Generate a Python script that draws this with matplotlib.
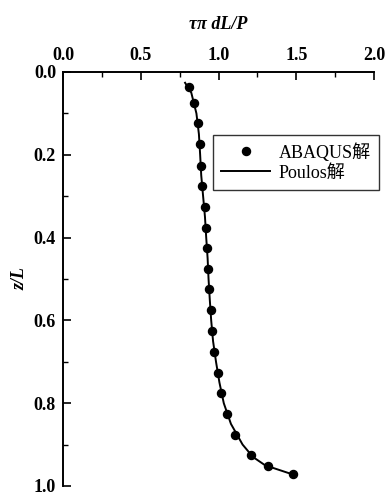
import matplotlib
matplotlib.use("Agg")
import matplotlib.pyplot as plt
from matplotlib.ticker import MultipleLocator

# Data
z_abaqus = [0.036, 0.074, 0.124, 0.174, 0.227, 0.275, 0.325, 0.376, 0.426, 0.476,
            0.525, 0.575, 0.625, 0.676, 0.726, 0.776, 0.827, 0.877, 0.926, 0.952, 0.972]
t_abaqus = [0.808, 0.842, 0.868, 0.878, 0.885, 0.893, 0.910, 0.917, 0.925, 0.934,
            0.938, 0.949, 0.957, 0.974, 0.996, 1.017, 1.056, 1.109, 1.209, 1.321, 1.477]

z_poulos = [0.026, 0.05, 0.10, 0.15, 0.20, 0.25, 0.30, 0.35, 0.40, 0.45, 0.50,
            0.55, 0.60, 0.65, 0.70, 0.75, 0.80, 0.85, 0.90, 0.93, 0.95, 0.972]
t_poulos = [0.785, 0.825, 0.858, 0.874, 0.882, 0.889, 0.901, 0.913, 0.921, 0.930,
            0.936, 0.944, 0.953, 0.965, 0.984, 1.006, 1.034, 1.080, 1.155, 1.222, 1.300, 1.477]

xticks = [0.0, 0.5, 1.0, 1.5, 2.0]
yticks = [0.0, 0.2, 0.4, 0.6, 0.8, 1.0]

serif = ["Liberation Serif", "Noto Sans CJK SC"]
plt.rcParams['font.family'] = serif

fig = plt.figure(figsize=(3.87, 4.95), dpi=100)
ax = fig.add_axes([63/387, 1-486/495, (374-63)/387, (486-72)/495])

ax.plot(t_poulos, z_poulos, color='black', lw=1.4, label='Poulos解', zorder=2)
ax.plot(t_abaqus, z_abaqus, 'o', color='black', ms=5.8, label='ABAQUS解', zorder=3)

ax.set_xlim(0, 2.0)
ax.set_ylim(1.0, 0.0)
ax.xaxis.set_ticks_position('top')
ax.xaxis.set_label_position('top')
ax.set_xticks(xticks)
ax.set_yticks(yticks)
ax.set_xticklabels([f"{v:.1f}" for v in xticks], fontweight='bold', fontsize=13)
ax.set_yticklabels([f"{v:.1f}" for v in yticks], fontweight='bold', fontsize=13)
ax.xaxis.set_minor_locator(MultipleLocator(0.25))
ax.yaxis.set_minor_locator(MultipleLocator(0.1))
ax.tick_params(which='major', direction='in', length=5.5, width=1.2)
ax.tick_params(which='minor', direction='in', length=3.5, width=1.0)
ax.tick_params(axis='x', which='major', pad=6)
ax.tick_params(axis='y', which='major', pad=5)
ax.tick_params(axis='x', which='both', top=True, bottom=False)
ax.tick_params(axis='y', which='both', left=True, right=False)
for s in ['right', 'bottom']:
    ax.spines[s].set_visible(False)
for s in ['left', 'top']:
    ax.spines[s].set_linewidth(1.4)

ax.set_xlabel('τπ dL/P', fontsize=13, labelpad=13,
              fontweight='bold', fontstyle='italic')
ax.set_ylabel('z/L', fontsize=13, fontstyle='italic', fontweight='bold', labelpad=4)

handles, labels = ax.get_legend_handles_labels()
leg = fig.legend(handles[::-1], labels[::-1], loc='upper left',
                 bbox_to_anchor=(213/387, 1-135/495), frameon=True,
                 fancybox=False, edgecolor='black', fontsize=13,
                 handlelength=2.7, borderpad=0.45, labelspacing=0.15,
                 handletextpad=0.5, borderaxespad=0)
leg.get_frame().set_linewidth(1.0)

fig.savefig('out.png', dpi=100)
